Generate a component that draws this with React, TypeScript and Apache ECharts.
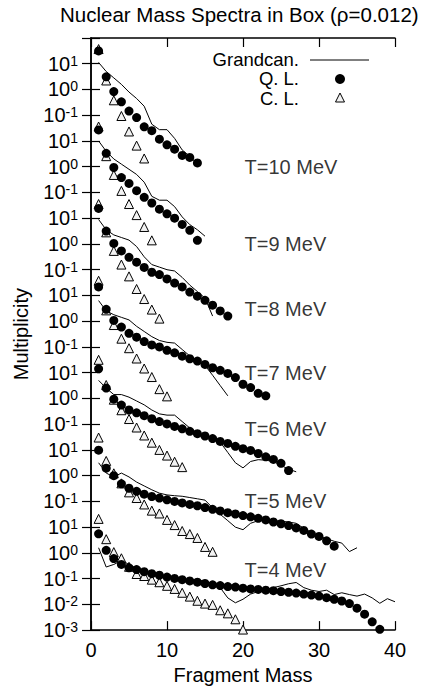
import React, { useEffect, useRef } from "react";
import * as echarts from "echarts";

// Panel temperatures (MeV); each panel is shifted up by 3 decades
const temps = [4, 5, 6, 7, 8, 9, 10];
const panelLabels = ["T=4 MeV", "T=5 MeV", "T=6 MeV", "T=7 MeV", "T=8 MeV", "T=9 MeV", "T=10 MeV"];
// label anchor: fragment mass and multiplicity (panel-local)
const labelMass = 20.2;
const labelLevels = [0.219, 0.107, 0.063, 0.01, 0.003, 0.001, 0.001];

// Multiplicity vs fragment mass (mass = 1, 2, 3, ...)
const gc4 = [1.58, 0.282, 0.355, 0.5, 0.355, 0.251, 0.2, 0.158, 0.141, 0.126, 0.112, 0.1, 0.0891, 0.0891, 0.0794, 0.0631, 0.0447, 0.0178, 0.0115, 0.0158, 0.0251, 0.0316, 0.038, 0.0447, 0.0525, 0.0631, 0.0708, 0.0447, 0.0355, 0.0316, 0.0355, 0.024, 0.0282, 0.024, 0.0209, 0.0251, 0.0178, 0.011, 0.0166, 0.0126];
const ql4 = [5.5, 1.26, 0.603, 0.355, 0.263, 0.224, 0.186, 0.155, 0.135, 0.115, 0.102, 0.0912, 0.0813, 0.0724, 0.0646, 0.0575, 0.0537, 0.049, 0.0468, 0.0427, 0.0398, 0.038, 0.0355, 0.0339, 0.0316, 0.0295, 0.0275, 0.0251, 0.0229, 0.0209, 0.0182, 0.0158, 0.0135, 0.0107, 0.00708, 0.00417, 0.00209, 0.00107];
const cl4 = [20.9, 3.4, 1.07, 0.617, 0.288, 0.151, 0.126, 0.0912, 0.0724, 0.0525, 0.0398, 0.0282, 0.02, 0.0138, 0.0107, 0.00955, 0.00589, 0.00447, 0.00263, 0.00105];

const gc5 = [3.16, 1.26, 0.891, 1.26, 0.891, 0.562, 0.398, 0.282, 0.209, 0.178, 0.166, 0.158, 0.141, 0.126, 0.112, 0.0562, 0.0316, 0.0178, 0.01, 0.00794, 0.0141, 0.0178, 0.0178, 0.0178, 0.017, 0.0158, 0.0141, 0.00891, 0.00631, 0.00447, 0.00355, 0.00282, 0.0024, 0.00112, 0.00158];
const ql5 = [9.77, 1.95, 1.0, 0.479, 0.324, 0.245, 0.191, 0.155, 0.135, 0.115, 0.1, 0.0871, 0.0759, 0.0676, 0.0575, 0.049, 0.0427, 0.0363, 0.0324, 0.0282, 0.0251, 0.0219, 0.0191, 0.0158, 0.0135, 0.0115, 0.00933, 0.00741, 0.00537, 0.00437, 0.00295, 0.00182];
const cl5 = [30.2, 3.72, 1.23, 0.501, 0.224, 0.135, 0.0759, 0.0437, 0.0339, 0.0191, 0.012, 0.00708, 0.00537, 0.0038, 0.0017, 0.0011];

const gc6 = [5.01, 2.51, 1.41, 1.41, 1.12, 0.794, 0.562, 0.355, 0.251, 0.224, 0.224, 0.126, 0.0708, 0.0447, 0.0355, 0.0282, 0.02, 0.00794, 0.00316, 0.002, 0.00355, 0.00417, 0.00398, 0.00355, 0.00251, 0.00178, 0.00141];
const ql6 = [14.1, 2.51, 0.933, 0.55, 0.355, 0.275, 0.214, 0.162, 0.126, 0.102, 0.0813, 0.0661, 0.0525, 0.0427, 0.0347, 0.0275, 0.0214, 0.0178, 0.0138, 0.0112, 0.00955, 0.00724, 0.00537, 0.00427, 0.00302, 0.00158];
const cl6 = [31.6, 3.31, 0.891, 0.347, 0.158, 0.0741, 0.0363, 0.0191, 0.01, 0.00603, 0.00347, 0.00214];

const gc7 = [6.31, 2.51, 1.78, 1.41, 1.12, 0.631, 0.398, 0.251, 0.178, 0.151, 0.141, 0.0794, 0.0447, 0.0282, 0.0191, 0.00794, 0.00316, 0.00126];
const ql7 = [21.4, 2.88, 1.07, 0.589, 0.339, 0.24, 0.162, 0.12, 0.1, 0.0741, 0.0589, 0.0437, 0.0347, 0.0282, 0.0209, 0.0155, 0.0123, 0.00933, 0.00646, 0.00355, 0.00263, 0.00158, 0.00126];
const cl7 = [37.2, 2.63, 0.708, 0.209, 0.0891, 0.0355, 0.0145, 0.00676, 0.00229, 0.0012];

const gc8 = [8.91, 3.55, 2.24, 1.78, 1.41, 0.794, 0.316, 0.158, 0.126, 0.1, 0.0891, 0.0501, 0.0251, 0.0141, 0.00794, 0.00158];
const ql8 = [24, 3.16, 1.05, 0.537, 0.302, 0.195, 0.123, 0.0794, 0.0646, 0.0437, 0.0302, 0.0214, 0.0135, 0.00933, 0.00646, 0.00417, 0.00251, 0.00158];
const cl8 = [35.5, 2.82, 0.537, 0.158, 0.055, 0.0178, 0.00724, 0.00282, 0.00126];

const gc9 = [10, 3.98, 2.0, 1.26, 0.794, 0.501, 0.251, 0.0708, 0.0501, 0.0501, 0.0282, 0.0112, 0.00562, 0.00355, 0.002];
const ql9 = [26.9, 3.31, 0.933, 0.38, 0.224, 0.117, 0.0646, 0.0389, 0.0224, 0.0148, 0.01, 0.00575, 0.00339, 0.00138];
const cl9 = [36.3, 2.57, 0.479, 0.115, 0.0355, 0.0132, 0.00457, 0.00138];

const gc10 = [11.2, 5.01, 2.82, 1.58, 0.794, 0.447, 0.224, 0.0447, 0.0275, 0.0275, 0.0126, 0.00447, 0.00251, 0.00126];
const ql10 = [31.6, 3.09, 0.832, 0.331, 0.145, 0.0813, 0.0355, 0.0251, 0.0117, 0.00708, 0.00479, 0.00275, 0.00229, 0.00141];
const cl10 = [37.2, 2.24, 0.38, 0.0933, 0.0234, 0.00661, 0.00209];

const grandcan = [gc4, gc5, gc6, gc7, gc8, gc9, gc10];
const quantum = [ql4, ql5, ql6, ql7, ql8, ql9, ql10];
const classical = [cl4, cl5, cl6, cl7, cl8, cl9, cl10];

const xTicks = [0, 10, 20, 30, 40];
const legendNames = ["Grandcan.", "Q. L.", "C. L."];

const FONT = "'Liberation Sans', Arial, Helvetica, sans-serif";

function tickLabel(v: number): string {
  const e = Math.round(Math.log10(v));
  if (e >= 20) return "";
  const loc = e <= 1 ? e : ((e - 2) % 3) - 1;
  return `{b|10}{s|${loc}}`;
}

export default function App() {
  const ref = useRef<HTMLDivElement>(null);
  useEffect(() => {
    if (!ref.current) return;
    const chart = echarts.init(ref.current, undefined, { renderer: "svg" });
    const series: any[] = [];
    temps.forEach((T, k) => {
      const f = Math.pow(10, 3 * k);
      series.push({
        type: "line",
        name: legendNames[0],
        data: grandcan[k].map((v, i) => [i + 1, v * f]),
        symbol: "none",
        showSymbol: false,
        lineStyle: { color: "#000", width: 1 },
        itemStyle: { color: "#000" },
        z: 1,
        silent: true,
      });
      series.push({
        type: "scatter",
        name: legendNames[2],
        data: classical[k].map((v, i) => [i + 1, v * f]),
        symbol: "triangle",
        symbolSize: 9,
        itemStyle: { color: "#f2f2f2", borderColor: "#000", borderWidth: 1, opacity: 1 },
        z: 2,
        silent: true,
      });
      series.push({
        type: "scatter",
        name: legendNames[1],
        data: quantum[k].map((v, i) => [i + 1, v * f]),
        symbol: "circle",
        symbolSize: 9,
        itemStyle: { color: "#000", opacity: 1 },
        z: 3,
        silent: true,
      });
    });
    series.push({
      type: "scatter",
      name: "panel labels",
      symbolSize: 0,
      silent: true,
      data: temps.map((T, k) => ({
        name: panelLabels[k],
        value: [labelMass, labelLevels[k] * Math.pow(10, 3 * k)],
      })),
      label: {
        show: true,
        position: "right",
        distance: 0,
        formatter: "{b}",
        fontSize: 20,
        fontFamily: FONT,
        color: "#000",
      },
      z: 4,
    });

    const legText = (text: string, y: number) => ({
      type: "text",
      x: 299,
      y,
      style: {
        text,
        fontSize: 18.5,
        fontFamily: FONT,
        fill: "#000",
        align: "right",
        verticalAlign: "middle",
      },
    });

    chart.setOption({
      animation: false,
      textStyle: { fontFamily: FONT },
      title: {
        text: "Nuclear Mass Spectra in Box (ρ=0.012)",
        left: 60,
        top: 4,
        padding: 0,
        textStyle: { fontSize: 20.5, fontWeight: "normal", fontFamily: FONT, color: "#000" },
      },
      graphic: [
        legText(legendNames[0], 59),
        { type: "line", shape: { x1: 310, y1: 60, x2: 369, y2: 60 }, style: { stroke: "#000", lineWidth: 1 } },
        legText(legendNames[1], 78.5),
        { type: "circle", shape: { cx: 340, cy: 79, r: 5 }, style: { fill: "#000" } },
        legText(legendNames[2], 98),
        {
          type: "polygon",
          shape: { points: [[335.5, 102], [344.5, 102], [340, 93]] },
          style: { fill: "#f2f2f2", stroke: "#000", lineWidth: 1 },
        },
      ],
      grid: { left: 91, right: 32, top: 38, bottom: 53, containLabel: false },
      xAxis: [
        {
          type: "value",
          min: xTicks[0],
          max: xTicks[xTicks.length - 1],
          interval: 10,
          position: "bottom",
          name: "Fragment Mass",
          nameLocation: "middle",
          nameGap: 31,
          nameTextStyle: { fontSize: 20, fontFamily: FONT, color: "#000" },
          axisLine: { show: true, lineStyle: { color: "#000", width: 1.5 } },
          axisTick: { show: true, inside: true, length: 9, lineStyle: { color: "#000", width: 1.2 } },
          axisLabel: { fontSize: 20, fontFamily: FONT, color: "#000", margin: 10 },
          splitLine: { show: false },
        },
        {
          type: "value",
          min: xTicks[0],
          max: xTicks[xTicks.length - 1],
          interval: 10,
          position: "top",
          axisLine: { show: true, lineStyle: { color: "#000", width: 1.5 } },
          axisTick: { show: true, inside: true, length: 9, lineStyle: { color: "#000", width: 1.2 } },
          axisLabel: { show: false },
          splitLine: { show: false },
        },
      ],
      yAxis: [
        {
          type: "log",
          logBase: 10,
          min: 1e-3,
          max: 1e20,
          interval: 1,
          position: "left",
          name: "Multiplicity",
          nameLocation: "middle",
          nameRotate: 90,
          nameGap: 60,
          nameTextStyle: { fontSize: 20, fontFamily: FONT, color: "#000" },
          axisLine: { show: true, lineStyle: { color: "#000", width: 1.5 } },
          axisTick: { show: true, inside: true, length: 9, lineStyle: { color: "#000", width: 1.2 } },
          axisLabel: {
            margin: 13,
            formatter: tickLabel,
            rich: {
              b: { fontSize: 20, fontFamily: FONT, color: "#000", lineHeight: 20, verticalAlign: "bottom" },
              s: { fontSize: 14, fontFamily: FONT, color: "#000", lineHeight: 14, padding: [0, 0, 10, 0], verticalAlign: "top" },
            },
          },
          splitLine: { show: false },
          minorTick: { show: false },
        },
        {
          type: "log",
          logBase: 10,
          min: 1e-3,
          max: 1e20,
          interval: 1,
          position: "right",
          axisLine: { show: true, lineStyle: { color: "#000", width: 1.5 } },
          axisTick: { show: true, inside: true, length: 9, lineStyle: { color: "#000", width: 1.2 } },
          axisLabel: { show: false },
          splitLine: { show: false },
        },
      ],
      series,
    });
    return () => chart.dispose();
  }, []);
  return (
    <div
      ref={ref}
      style={{ position: "absolute", left: 0, top: 0, width: 427, height: 690, background: "#fff" }}
    />
  );
}
